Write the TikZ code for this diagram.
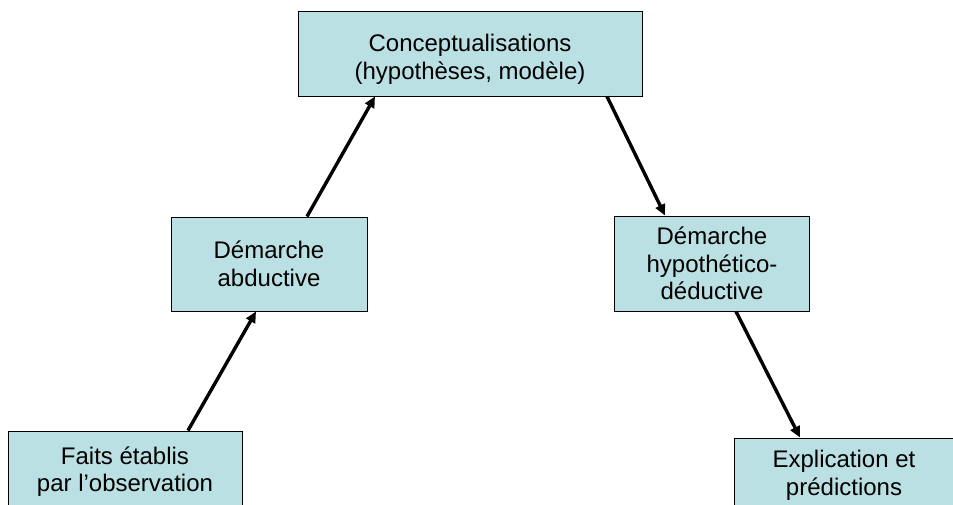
\documentclass[tikz,border=0pt]{standalone}
\usepackage{fontspec}
\setmainfont{Liberation Sans}
\usetikzlibrary{arrows.meta}
\definecolor{boxfill}{HTML}{BBE0E3}
\begin{document}
\begin{tikzpicture}[x=1pt,y=-1pt,
  txt/.style={align=center, inner sep=0pt, font=\fontsize{24}{27.6}\selectfont},
  box/.style={draw=black, line width=1pt, fill=boxfill, txt},
  arr/.style={line width=3.4pt, -{Triangle[length=11pt,width=10pt]}}]
\useasboundingbox (0,0) rectangle (953,504);
\clip (0,0) rectangle (953,504);
\node[box, minimum width=344pt, minimum height=85pt,
  label={[txt,yshift=-6pt]center:{Conceptualisations\\(hypothèses, modèle)}}] (top) at (470,53.5) {};
\node[box, minimum width=196pt, minimum height=94pt] (abd) at (269,264) {Démarche\\abductive};
\node[box, minimum width=195pt, minimum height=95pt] (hyp) at (712,263.5) {Démarche\\hypothético-\\déductive};
\node[box, minimum width=234pt, minimum height=81pt] (faits) at (125,471.5) {Faits établis\\par l’observation};
\node[box, minimum width=220pt, minimum height=75pt] (expl) at (844,475.5) {Explication et\\prédictions};
\draw[arr] ([xshift=63pt]faits.north) -- ([xshift=-13pt]abd.south);
\draw[arr] ([xshift=38pt]abd.north) -- ([xshift=-95pt]top.south);
\draw[arr] ([xshift=137pt]top.south) -- ([xshift=-47pt]hyp.north);
\draw[arr] ([xshift=24pt]hyp.south) -- ([xshift=-44pt]expl.north);
\end{tikzpicture}
\end{document}
